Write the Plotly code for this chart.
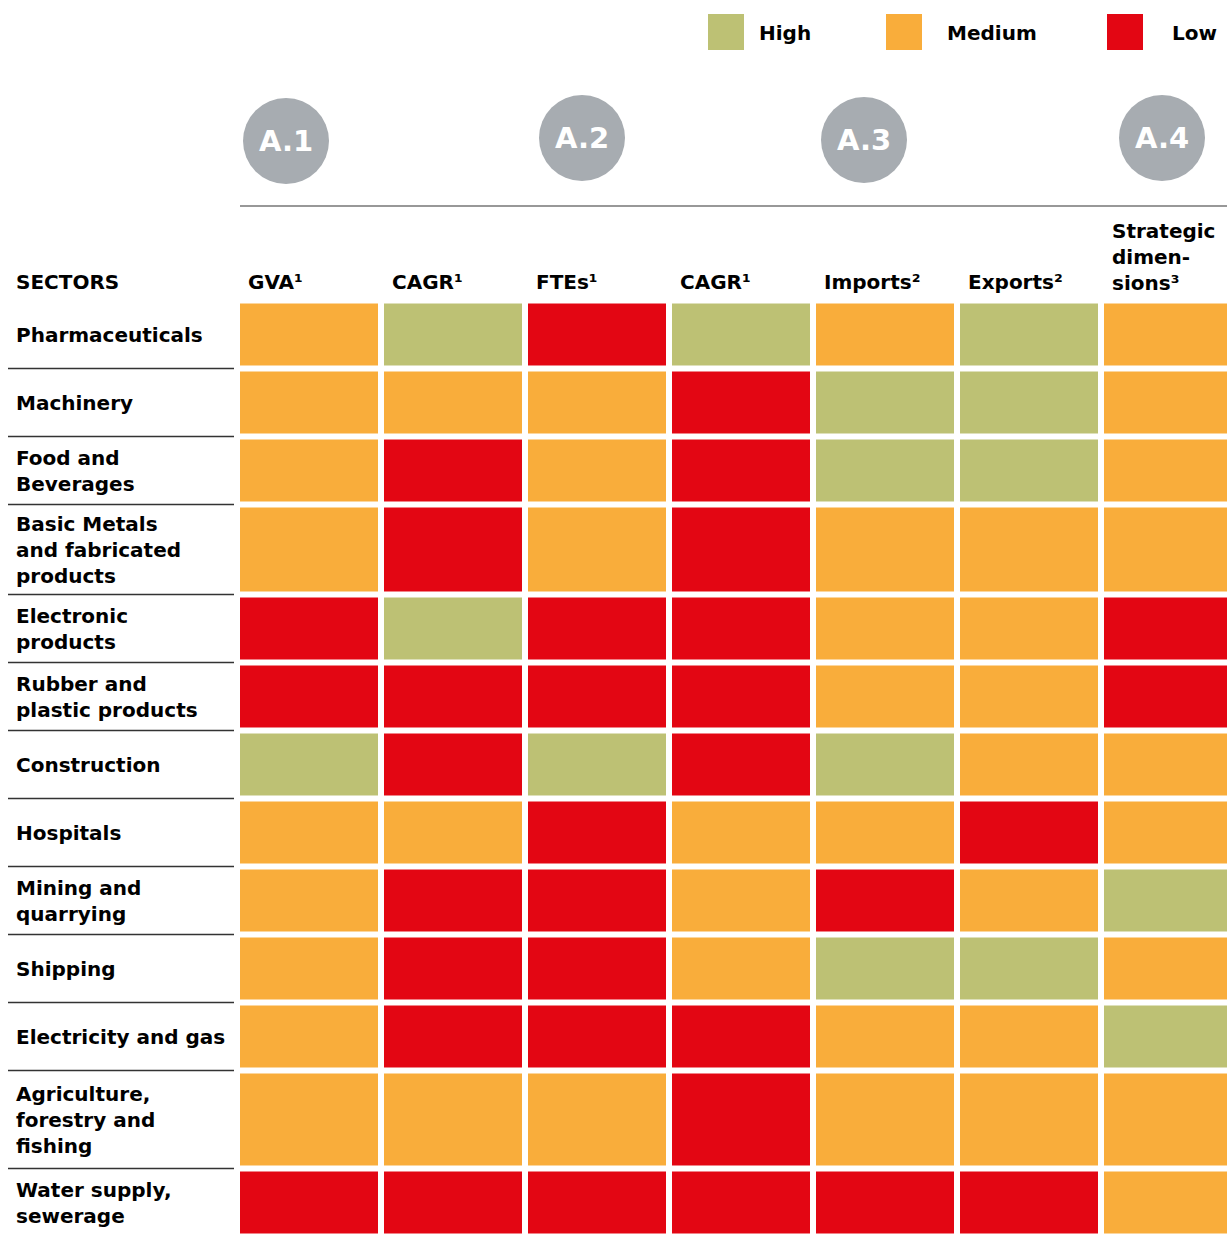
import plotly.graph_objects as go

# ---------------- data ----------------
sectors = [
    "Pharmaceuticals", "Machinery", "Food and<br>Beverages",
    "Basic Metals<br>and fabricated<br>products", "Electronic<br>products",
    "Rubber and<br>plastic products", "Construction", "Hospitals",
    "Mining and<br>quarrying", "Shipping", "Electricity and gas",
    "Agriculture,<br>forestry and<br>fishing", "Water supply,<br>sewerage",
]
indicators = ["GVA¹", "CAGR¹", "FTEs¹", "CAGR¹", "Imports²", "Exports²",
              "Strategic<br>dimen-<br>sions³"]
groups = ["A.1", "A.2", "A.3", "A.4"]
levels = ["Low", "Medium", "High"]          # 0, 1, 2
legend_order = ["High", "Medium", "Low"]

ratings = [
    ["Medium", "High", "Low", "High", "Medium", "High", "Medium"],
    ["Medium", "Medium", "Medium", "Low", "High", "High", "Medium"],
    ["Medium", "Low", "Medium", "Low", "High", "High", "Medium"],
    ["Medium", "Low", "Medium", "Low", "Medium", "Medium", "Medium"],
    ["Low", "High", "Low", "Low", "Medium", "Medium", "Low"],
    ["Low", "Low", "Low", "Low", "Medium", "Medium", "Low"],
    ["High", "Low", "High", "Low", "High", "Medium", "Medium"],
    ["Medium", "Medium", "Low", "Medium", "Medium", "Low", "Medium"],
    ["Medium", "Low", "Low", "Medium", "Low", "Medium", "High"],
    ["Medium", "Low", "Low", "Medium", "High", "High", "Medium"],
    ["Medium", "Low", "Low", "Low", "Medium", "Medium", "High"],
    ["Medium", "Medium", "Medium", "Low", "Medium", "Medium", "Medium"],
    ["Low", "Low", "Low", "Low", "Low", "Low", "Medium"],
]

# ---------------- styles / layout ----------------
W, H = 1227, 1237
COLORS = {"Low": "#E30613", "Medium": "#F9AD3B", "High": "#BDC174"}
CIRCLE_COLOR = "#A7ACB1"
FONT = "DejaVu Sans"
TXT = dict(family=FONT, size=20, color="black", weight="bold")
GRID_LEFT = 237          # px, left edge of first column (incl. half gap)
COL_PITCH = 144          # px per column
TABLE_TOP = 300.5        # px
ROW_PITCH = [68, 68, 68, 90, 68, 68, 68, 68, 68, 68, 68, 98, 68]
CIRCLE_POS = [(286, 141), (582, 138), (864, 140), (1162, 138)]
CIRCLE_R = 43
LEGEND_SQ = [(708, 757), (886, 945), (1107, 1170)]   # square left, text left


def px(x):
    return x / W


def py(y):
    return 1 - y / H


# row edges in pixel units
edges = [TABLE_TOP]
for p in ROW_PITCH:
    edges.append(edges[-1] + p)
centers = [(edges[i] + edges[i + 1]) / 2 for i in range(len(ROW_PITCH))]

z = [[levels.index(v) for v in row] for row in ratings]

fig = go.Figure()
fig.add_trace(go.Heatmap(
    z=z,
    x=list(range(len(indicators))),
    y=edges,
    zmin=0, zmax=2,
    colorscale=[[0, COLORS["Low"]], [0.5, COLORS["Medium"]], [1, COLORS["High"]]],
    xgap=6, ygap=6,
    showscale=False,
    hoverinfo="skip",
))

shapes = []
annotations = []

# separators on the left label column
for e in edges[1:-1]:
    shapes.append(dict(type="line", xref="paper", yref="y",
                       x0=px(8), x1=px(234), y0=e, y1=e,
                       line=dict(color="#333333", width=1.5)))
# top rule
shapes.append(dict(type="line", xref="paper", yref="paper",
                   x0=px(240), x1=1, y0=py(206), y1=py(206),
                   line=dict(color="#333333", width=1.2)))

# group circles
for (cx, cy), g in zip(CIRCLE_POS, groups):
    shapes.append(dict(type="circle", xref="paper", yref="paper",
                       x0=px(cx - CIRCLE_R), x1=px(cx + CIRCLE_R),
                       y0=py(cy + CIRCLE_R), y1=py(cy - CIRCLE_R),
                       fillcolor=CIRCLE_COLOR, line=dict(width=0)))
    annotations.append(dict(text=g, xref="paper", yref="paper",
                            x=px(cx), y=py(cy), showarrow=False,
                            xanchor="center", yanchor="middle",
                            font=dict(family=FONT, size=29, color="white", weight="bold")))

# legend
for (sx, tx), name in zip(LEGEND_SQ, legend_order):
    shapes.append(dict(type="rect", xref="paper", yref="paper",
                       x0=px(sx), x1=px(sx + 36), y0=py(50), y1=py(14),
                       fillcolor=COLORS[name], line=dict(width=0)))
    annotations.append(dict(text=name, xref="paper", yref="paper",
                            x=px(tx), y=py(33), showarrow=False,
                            xanchor="left", yanchor="middle", font=TXT))

# sector labels
for s, c in zip(sectors, centers):
    annotations.append(dict(text=s, xref="paper", yref="y", x=px(14), y=c,
                            showarrow=False, xanchor="left", yanchor="middle",
                            align="left", font=TXT))

# header labels
annotations.append(dict(text="SECTORS", xref="paper", yref="paper",
                        x=px(14), y=py(282), showarrow=False,
                        xanchor="left", yanchor="middle", font=TXT))
for i, lab in enumerate(indicators):
    nlines = lab.count("<br>") + 1
    annotations.append(dict(text=lab, xref="x", yref="paper",
                            x=i, xshift=-COL_PITCH / 2 + 9,
                            y=py(282 - (nlines - 1) * 25.5 / 2), showarrow=False,
                            xanchor="left", yanchor="middle", align="left",
                            font=TXT))

fig.update_layout(
    width=W, height=H,
    margin=dict(l=0, r=0, t=0, b=0),
    paper_bgcolor="white", plot_bgcolor="white",
    font=dict(family=FONT, color="black"),
    xaxis=dict(domain=[px(GRID_LEFT), 1],
               range=[-0.5, -0.5 + (W - GRID_LEFT) / COL_PITCH],
               visible=False, fixedrange=True),
    yaxis=dict(domain=[0, py(TABLE_TOP)], range=[H, TABLE_TOP],
               visible=False, fixedrange=True),
    shapes=shapes,
    annotations=annotations,
    showlegend=False,
)

# remove the default 8px page margin so the figure fills the window exactly
fig.write_html("out.html",
               config={"displayModeBar": False},
               post_script="document.body.style.margin='0px';"
                           "document.body.style.overflow='hidden';")
